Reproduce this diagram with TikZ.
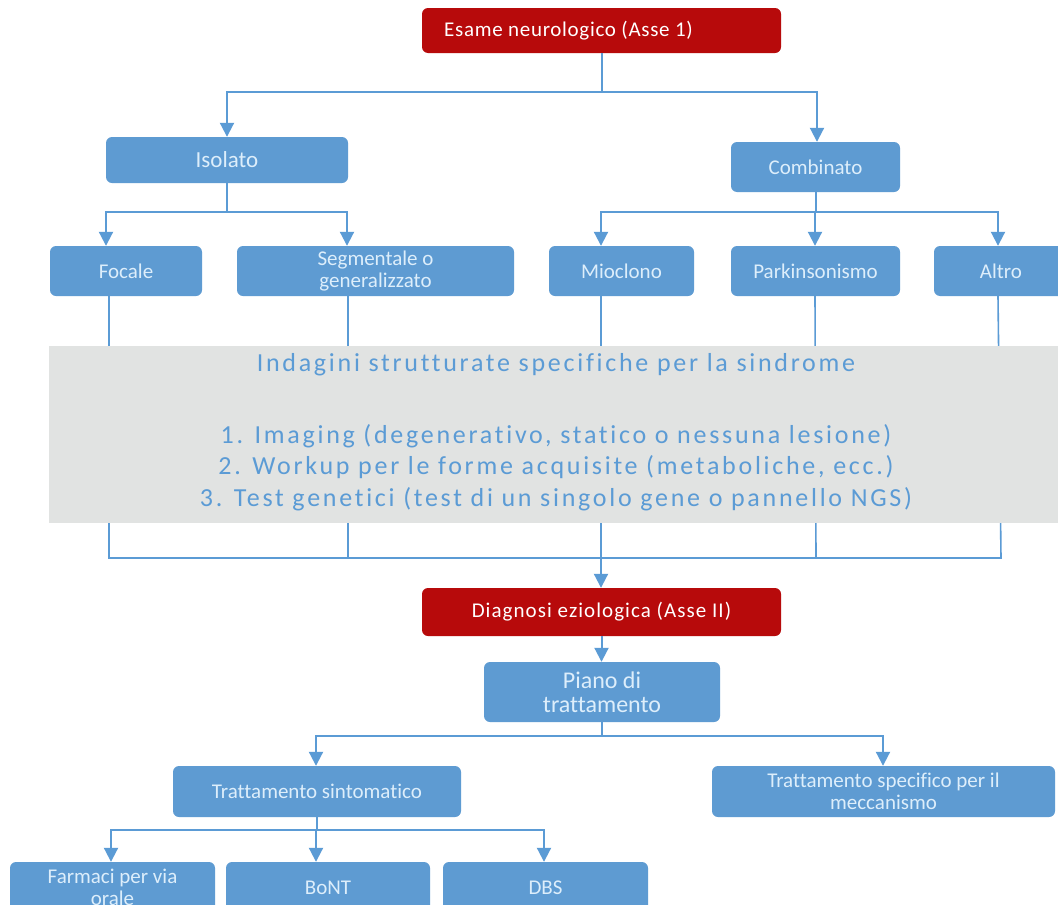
\documentclass[tikz,border=0pt]{standalone}
\usepackage{fontspec}
\setmainfont{Carlito}[Ligatures={NoCommon}]
\usetikzlibrary{arrows.meta}
\definecolor{boxblue}{HTML}{5E9BD2}
\definecolor{boxtext}{HTML}{DDEEFB}
\definecolor{axisred}{HTML}{B70A0B}
\definecolor{greyfill}{HTML}{E1E3E2}
\definecolor{greytext}{HTML}{5B9BD5}
\definecolor{linecol}{HTML}{5B9BD5}
\begin{document}
\begin{tikzpicture}[x=1pt,y=-1pt,
  bbox/.style={rectangle, rounded corners=6pt, fill=boxblue, text=boxtext, inner sep=0pt, align=center, font=\fontsize{21}{22.5}\selectfont},
  redbox/.style={rectangle, rounded corners=6pt, fill=axisred, text=white, inner sep=0pt, align=center},
  conn/.style={draw=linecol, line width=2pt, -{Triangle[length=14pt,width=14pt]}},
  plainline/.style={draw=linecol, line width=1.6pt},
  greytxt/.style={text=greytext, inner sep=0pt, anchor=base, font=\fontsize{26}{31}\selectfont\addfontfeatures{LetterSpace=10.5}},
]
\useasboundingbox (0,0) rectangle (1058,905);
\clip (0,0) rectangle (1058,905);
\fill[white] (0,0) rectangle (1058,905);

% row 1
\node[redbox, minimum width=359pt, minimum height=45pt, font=\fontsize{21}{24}\selectfont\addfontfeatures{LetterSpace=3.3}] (esame) at (601.5,30.5) {Esame neurologico (Asse 1)\hspace*{66pt}};
% row 2
\node[bbox, minimum width=242pt, minimum height=46pt, font=\fontsize{23}{24}\selectfont] (isolato) at (227,160) {Isolato};
\node[bbox, minimum width=169pt, minimum height=50pt] (combinato) at (815.5,167) {Combinato};
% row 3
\node[bbox, minimum width=152pt, minimum height=50pt] (focale) at (126,271) {Focale};
\node[bbox, minimum width=277pt, minimum height=50pt] (segm) at (375.5,271) {Segmentale o\\generalizzato};
\node[bbox, minimum width=145pt, minimum height=50pt] (mioclono) at (621.5,271) {Mioclono};
\node[bbox, minimum width=169pt, minimum height=50pt] (parkin) at (815.5,271) {Parkinsonismo};
\node[bbox, minimum width=134pt, minimum height=50pt] (altro) at (1001,271) {Altro};

% connectors top
\draw[conn] (esame.south) -- (esame.south |- 0,92) -| (isolato.north);
\draw[conn] (esame.south) -- (esame.south |- 0,92) -| (817,0 |- combinato.north);
\draw[conn] (isolato.south) -- (isolato.south |- 0,212) -| (106,0 |- focale.north);
\draw[conn] (isolato.south) -- (isolato.south |- 0,212) -| (347,0 |- segm.north);
\draw[conn] (combinato.south) -- (combinato.south |- 0,212) -| (601,0 |- mioclono.north);
\draw[conn] (combinato.south) -- (combinato.south |- 0,212) -| (815,0 |- parkin.north);
\draw[conn] (combinato.south) -- (combinato.south |- 0,212) -| (998,0 |- altro.north);

% lines down to merge
\coordinate (merge) at (601,558);
\draw[plainline] (109,0 |- focale.south) -- (109,558);
\draw[plainline] (348,0 |- segm.south) -- (348,558);
\draw[plainline] (601,0 |- mioclono.south) -- (merge);
\draw[plainline] (815,0 |- parkin.south) -- (816,558);
\draw[plainline] (998,0 |- altro.south) -- (1001,558);
\draw[plainline] (108.2,558) -- (1001.8,558);

% grey box
\node[rectangle, fill=greyfill, minimum width=1016pt, minimum height=177pt, inner sep=0pt] (grey) at (557,434.5) {};
\node[greytxt] (gtitle) at (556,371) {Indagini strutturate specifiche per la sindrome};
\node[greytxt] (gl1) at (556,443.3) {1. Imaging (degenerativo, statico o nessuna lesione)};
\node[greytxt] (gl2) at (556,474.6) {2. Workup per le forme acquisite (metaboliche, ecc.)};
\node[greytxt] (gl3) at (556,506) {3. Test genetici (test di un singolo gene o pannello NGS)};

% diagnosi
\node[redbox, minimum width=359pt, minimum height=48pt, font=\fontsize{21}{24}\selectfont\addfontfeatures{LetterSpace=5}] (diag) at (601.5,612) {Diagnosi eziologica (Asse II)};
\draw[conn] (merge) -- (601,0 |- diag.north);

% piano
\node[bbox, minimum width=236pt, minimum height=60pt, font=\fontsize{24}{23.5}\selectfont] (piano) at (602,692) {Piano di\\trattamento};
\draw[conn] (601.5,0 |- diag.south) -- (601.5,0 |- piano.north);

% treatment
\node[bbox, minimum width=288pt, minimum height=51pt] (sint) at (317,791.5) {Trattamento sintomatico};
\node[bbox, minimum width=343pt, minimum height=51pt] (spec) at (883.5,791.5) {Trattamento specifico per il\\meccanismo};
\draw[conn] (piano.south) -- (piano.south |- 0,736) -| (316,0 |- sint.north);
\draw[conn] (piano.south) -- (piano.south |- 0,736) -| (883,0 |- spec.north);

% bottom row
\node[bbox, minimum width=205pt, minimum height=51pt] (farmaci) at (112.5,887.5) {Farmaci per via\\orale};
\node[bbox, minimum width=204pt, minimum height=51pt] (bont) at (328,887.5) {BoNT};
\node[bbox, minimum width=205pt, minimum height=51pt] (dbs) at (545.5,887.5) {DBS};
\draw[conn] (sint.south) -- (sint.south |- 0,830) -| (111,0 |- farmaci.north);
\draw[conn] (sint.south) -- (sint.south |- 0,830) -| (316,0 |- bont.north);
\draw[conn] (sint.south) -- (sint.south |- 0,830) -| (544,0 |- dbs.north);
\end{tikzpicture}
\end{document}
